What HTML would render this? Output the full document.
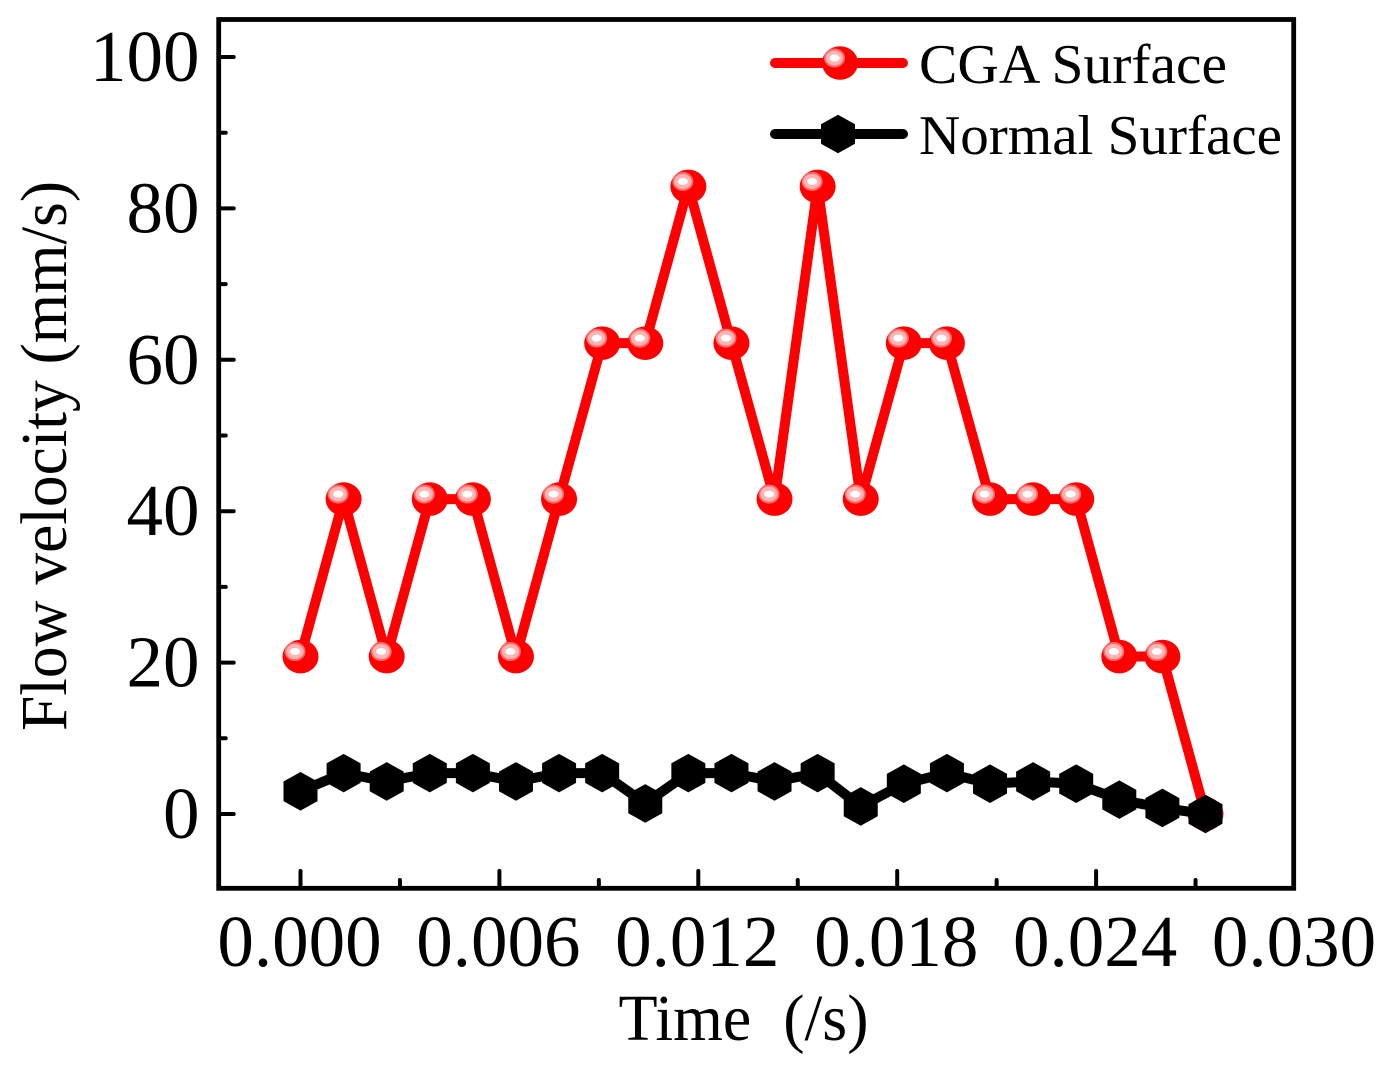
<!DOCTYPE html>
<html>
<head>
<meta charset="utf-8">
<style>
html,body{margin:0;padding:0;background:#fff;}
svg{display:block;}
text{font-family:"Liberation Serif",serif;fill:#000;}
</style>
</head>
<body>
<svg id="chart" width="1395" height="1066" viewBox="0 0 1395 1066" xmlns="http://www.w3.org/2000/svg">
<rect x="218.7" y="19.5" width="1075" height="868.8" fill="none" stroke="#000" stroke-width="4.8"/>
<g id="ticks"></g>
<g id="series"></g>
<text x="618.5" y="1040" font-size="66" textLength="250" lengthAdjust="spacingAndGlyphs" xml:space="preserve">Time  (/s)</text>
<text transform="translate(66,731) rotate(-90)" font-size="66" textLength="550" lengthAdjust="spacingAndGlyphs">Flow velocity (mm/s)</text>
<g>
<line x1="775" y1="63" x2="903" y2="63" stroke="#f00" stroke-width="10" stroke-linecap="round"/>
<g id="legend-cga"></g>
<text x="919" y="83" font-size="56" textLength="308" lengthAdjust="spacingAndGlyphs">CGA Surface</text>
<line x1="775" y1="134" x2="903" y2="134" stroke="#000" stroke-width="10" stroke-linecap="round"/>
<g id="legend-normal"></g>
<text x="919" y="154" font-size="56" textLength="363" lengthAdjust="spacingAndGlyphs">Normal Surface</text>
</g>
</svg>
<script>
const times = [0,0.0013,0.0026,0.0039,0.0052,0.0065,0.0078,0.0091,0.0104,0.0117,0.013,0.0143,0.0156,0.0169,0.0182,0.0195,0.0208,0.0221,0.0234,0.0247,0.026,0.0273];
const cgaValues = [20.8,41.6,20.8,41.6,41.6,20.8,41.6,62.2,62.2,82.9,62.2,41.6,82.9,41.6,62.2,62.2,41.6,41.6,41.6,20.8,20.8,0];
const normalValues = [3,5.4,4.3,5.4,5.4,4.3,5.4,5.4,1.4,5.4,5.4,4.3,5.4,1,4,5.4,4,4.3,4,1.9,0.8,0];
const xTickValues = [0,0.006,0.012,0.018,0.024,0.03];
const xTickLabels = ['0.000','0.006','0.012','0.018','0.024','0.030'];
const xMinorValues = [0.003,0.009,0.015,0.021,0.027];
const yTickValues = [0,20,40,60,80,100];
const yTickLabels = ['0','20','40','60','80','100'];
const yMinorValues = [10,30,50,70,90];

const NS = 'http://www.w3.org/2000/svg';
const xScale = t => 300.5 + t * 33150;
const yScale = v => 814 - v * 7.57;
const frameRight = 1293.7;
const ticksG = document.getElementById('ticks');
const seriesG = document.getElementById('series');

function make(tag, attrs, parent) {
  const el = document.createElementNS(NS, tag);
  for (const k in attrs) el.setAttribute(k, attrs[k]);
  parent.appendChild(el);
  return el;
}

xTickValues.forEach((v, i) => {
  const tx = Math.min(xScale(v), frameRight);
  const tick = make('line', {x1: tx, x2: tx, y1: 871, y2: 888, stroke: '#000', 'stroke-width': 4, 'stroke-linecap': 'round'}, ticksG);
  
  
  const label = make('text', {x: xScale(v) - 1, y: 966, 'font-size': 73, 'text-anchor': 'middle'}, ticksG);
  label.textContent = xTickLabels[i];
  
  
});
xMinorValues.forEach(v => {
  const tick = make('line', {x1: xScale(v), x2: xScale(v), y1: 880, y2: 888, stroke: '#000', 'stroke-width': 4, 'stroke-linecap': 'round'}, ticksG);
  
  
});
yTickValues.forEach((v, i) => {
  const tick = make('line', {x1: 219, x2: 233.7, y1: yScale(v), y2: yScale(v), stroke: '#000', 'stroke-width': 4, 'stroke-linecap': 'round'}, ticksG);
  
  
  const label = make('text', {x: 199.5, y: yScale(v) + 24, 'font-size': 73, 'text-anchor': 'end'}, ticksG);
  label.textContent = yTickLabels[i];
  
  
});
yMinorValues.forEach(v => {
  const tick = make('line', {x1: 219, x2: 225.7, y1: yScale(v), y2: yScale(v), stroke: '#000', 'stroke-width': 4, 'stroke-linecap': 'round'}, ticksG);
  
  
});

function drawBall(cx, cy, parent) {
  const g = make('g', {}, parent);
  make('ellipse', {cx: cx, cy: cy, rx: 18, ry: 16.8, fill: '#f00'}, g);
  make('ellipse', {cx: cx - 5.5, cy: cy - 5, rx: 10.5, ry: 9.5, fill: '#ff6a6a'}, g);
  make('ellipse', {cx: cx - 5.5, cy: cy - 5, rx: 8.8, ry: 7.5, fill: '#ffb4b4'}, g);
  make('ellipse', {cx: cx - 5.5, cy: cy - 5, rx: 5, ry: 3.5, fill: '#fff'}, g);
  return g;
}
function drawHex(cx, cy, parent) {
  const pts = [[0,-19.3],[17,-9.8],[17,9.8],[0,19.3],[-17,9.8],[-17,-9.8]]
    .map(p => (cx + p[0]) + ',' + (cy + p[1])).join(' ');
  return make('polygon', {points: pts, fill: '#000'}, parent);
}

const cgaPts = times.map((t, i) => xScale(t) + ',' + yScale(cgaValues[i])).join(' ');
const cgaLine = make('polyline', {points: cgaPts, fill: 'none', stroke: '#f00', 'stroke-width': 10, 'stroke-linejoin': 'round'}, seriesG);


times.forEach((t, i) => {
  const m = drawBall(xScale(t), yScale(cgaValues[i]), seriesG);
  
  
});

const normalPts = times.map((t, i) => xScale(t) + ',' + yScale(normalValues[i])).join(' ');
const normalLine = make('polyline', {points: normalPts, fill: 'none', stroke: '#000', 'stroke-width': 10, 'stroke-linejoin': 'round'}, seriesG);


times.forEach((t, i) => {
  const m = drawHex(xScale(t), yScale(normalValues[i]), seriesG);
  
  
});

const legendBall = drawBall(840, 63, document.getElementById('legend-cga'));


const legendHex = drawHex(838, 134, document.getElementById('legend-normal'));


</script>
</body>
</html>
